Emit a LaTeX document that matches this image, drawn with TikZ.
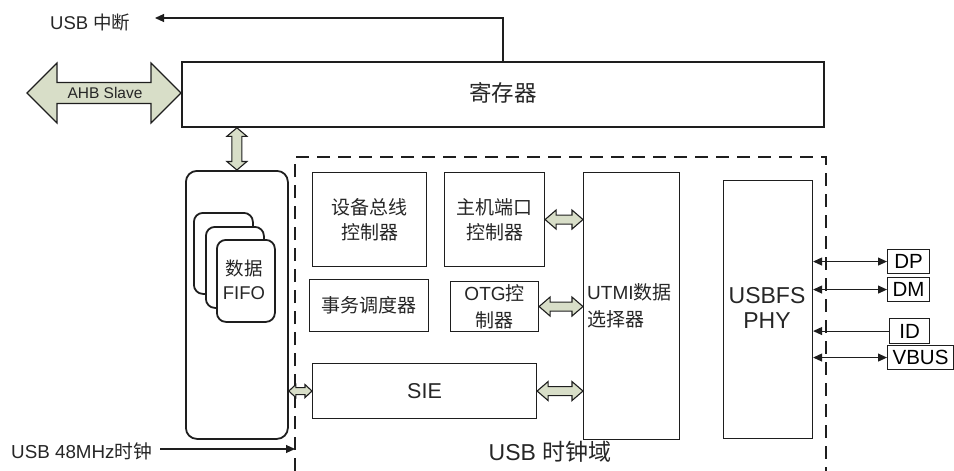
\documentclass[tikz,border=0pt]{standalone}
\usepackage{fontspec}
\setmainfont{Liberation Sans}
\newfontfamily\cjk{Noto Sans CJK SC}
\usetikzlibrary{arrows.meta,calc}
\definecolor{fatfill}{RGB}{216,222,200}
\definecolor{ln}{RGB}{30,30,30}
% horizontal fat double arrow: #1 left point, #2 right point, #3 half body, #4 half head, #5 head length
\newcommand\fatH[5]{\draw[fat] let \p1=#1, \p2=#2 in
  (\x1,\y1) -- (\x1+#5,\y1+#4) -- (\x1+#5,\y1+#3) -- (\x2-#5,\y1+#3) -- (\x2-#5,\y1+#4) --
  (\x2,\y1) -- (\x2-#5,\y1-#4) -- (\x2-#5,\y1-#3) -- (\x1+#5,\y1-#3) -- (\x1+#5,\y1-#4) -- cycle;}
% vertical fat double arrow: #1 top point, #2 bottom point
\newcommand\fatV[5]{\draw[fat] let \p1=#1, \p2=#2 in
  (\x1,\y1) -- (\x1+#4,\y1-#5) -- (\x1+#3,\y1-#5) -- (\x1+#3,\y2+#5) -- (\x1+#4,\y2+#5) --
  (\x1,\y2) -- (\x1-#4,\y2+#5) -- (\x1-#3,\y2+#5) -- (\x1-#3,\y1-#5) -- (\x1-#4,\y1-#5) -- cycle;}
\begin{document}
\begin{tikzpicture}[x=1pt,y=-1pt,
  box/.style={draw=ln, line width=1.1pt, inner sep=0pt, anchor=north west, align=center},
  heavybox/.style={box, line width=1.8pt},
  fat/.style={draw=ln, line width=1.1pt, fill=fatfill, line join=miter},
  sig/.style={draw=ln, line width=1.1pt, -{Triangle[length=9pt,width=8pt]}},
  dsig/.style={draw=ln, line width=1.1pt, {Triangle[length=9pt,width=8pt]}-{Triangle[length=9pt,width=8pt]}},
  zone/.style={draw=ln, line width=1.8pt, dash pattern=on 13pt off 8pt},
  txt/.style={inner sep=0pt, align=center, text=black!85},
  sigfont/.style={font=\fontsize{20.5}{22}\selectfont}]
\useasboundingbox (0,0) rectangle (954,471);

% register
\node[heavybox, minimum width=642, minimum height=65] (reg) at (181,61) {};
\node[txt, font=\fontsize{22.5}{26}\selectfont\cjk] (regt) at (503,93) {寄存器};

% USB interrupt
\coordinate (inttop) at (503,61);
\coordinate (inttip) at (155,18);
\node[txt, font=\fontsize{18.5}{20}\selectfont, anchor=west] (intl) at (50,22) {USB {\cjk 中断}};
\draw[sig] (inttop) |- (inttip);

% AHB slave
\coordinate (ahbl) at (27,93);
\fatH{(ahbl)}{(reg.west)}{10.5pt}{30pt}{30pt}
\node[txt, font=\fontsize{15.5}{18}\selectfont] (ahbt) at (105,93) {AHB Slave};

% FIFO
\node[heavybox, rounded corners=11pt, minimum width=102, minimum height=268] (fifo) at (185,170) {};
\node[heavybox, fill=white, rounded corners=9pt, minimum width=59, minimum height=81] (c1) at (193,212) {};
\node[heavybox, fill=white, rounded corners=9pt, minimum width=58, minimum height=81] (c2) at (205,226) {};
\node[heavybox, fill=white, rounded corners=9pt, minimum width=58, minimum height=82] (c3) at (216,239) {};
\node[txt, font=\fontsize{18.5}{24.5}\selectfont] (fifot) at (244,280) {{\cjk 数据}\\FIFO};
\fatV{(fifo.north |- reg.south)}{(fifo.north)}{5pt}{10pt}{8.5pt}

% USB clock domain
\draw[zone] (295,471) -- (295,157) -- (826,157) -- (826,471);
\node[txt, font=\fontsize{23}{26}\selectfont] (zonet) at (550,452) {USB {\cjk 时钟域}};

% inner blocks
\node[box, minimum width=114, minimum height=94] (dev) at (312,172) {};
\node[txt, font=\fontsize{19}{25}\selectfont\cjk] at (dev.center) {设备总线\\控制器};
\node[box, minimum width=119, minimum height=52] (sched) at (309,279) {};
\node[txt, font=\fontsize{19}{22}\selectfont\cjk] at (sched.center) {事务调度器};
\node[box, minimum width=224, minimum height=55] (sie) at (312,363) {};
\node[txt, font=\fontsize{21.5}{24}\selectfont] at (sie.center) {SIE};
\node[box, minimum width=100, minimum height=94] (host) at (444,172) {};
\node[txt, font=\fontsize{19}{25}\selectfont\cjk] at (host.center) {主机端口\\控制器};
\node[box, minimum width=88, minimum height=50] (otg) at (450,281) {};
\node[txt, font=\fontsize{19}{27}\selectfont] at (otg.center) {OTG{\cjk 控}\\{\cjk 制器}};
\node[box, minimum width=96, minimum height=267] (utmi) at (583,172) {};
\node[txt, font=\fontsize{19}{27}\selectfont, anchor=west, align=left] at (587,306) {UTMI{\cjk 数据}\\{\cjk 选择器}};
\node[box, minimum width=89, minimum height=258] (phy) at (723,180) {};
\node[txt, font=\fontsize{23}{24.5}\selectfont] at (767,308) {USBFS\\PHY};

% fat arrows inside
\fatH{(fifo.east |- sie.west)}{(sie.west)}{3.5pt}{6.5pt}{7pt}
\fatH{(host.east)}{(host.east -| utmi.west)}{4.5pt}{9.5pt}{11pt}
\fatH{(otg.east)}{(otg.east -| utmi.west)}{4.5pt}{9.5pt}{11pt}
\fatH{(sie.east)}{(sie.east -| utmi.west)}{4.5pt}{9.5pt}{11pt}

% signals
\node[box, minimum width=42, minimum height=24, sigfont] (dp) at (887,249) {DP};
\node[box, minimum width=42, minimum height=24, sigfont] (dm) at (887,277) {DM};
\node[box, minimum width=40, minimum height=25, sigfont] (id) at (889,318) {ID};
\node[box, minimum width=66, minimum height=24, sigfont] (vbus) at (887,345) {VBUS};
\draw[dsig] (dp.west -| phy.east) -- (dp.west);
\draw[dsig] (dm.west -| phy.east) -- (dm.west);
\draw[sig] (id.west) -- (id.west -| phy.east);
\draw[dsig] (vbus.west -| phy.east) -- (vbus.west);

% clock input
\node[txt, font=\fontsize{18.8}{20}\selectfont, anchor=west] (clkl) at (11,451) {USB 48MHz{\cjk 时钟}};
\coordinate (clks) at (160,449);
\coordinate (clke) at (295,449);
\draw[sig] (clks) -- (clke);
\end{tikzpicture}
\end{document}
